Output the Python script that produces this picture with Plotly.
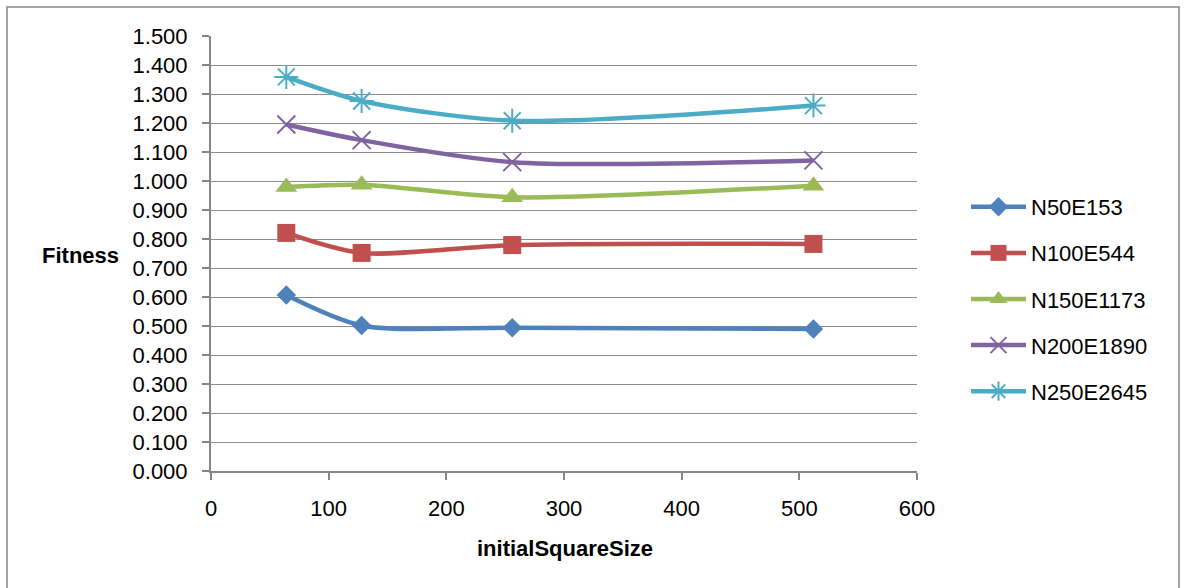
import plotly.graph_objects as go

x_sizes = [64, 128, 256, 512]
series_names = ["N50E153", "N100E544", "N150E1173", "N200E1890", "N250E2645"]
n50 = [0.607, 0.502, 0.494, 0.490]
n100 = [0.821, 0.752, 0.779, 0.783]
n150 = [0.979, 0.987, 0.944, 0.984]
n200 = [1.195, 1.141, 1.065, 1.071]
n250 = [1.359, 1.276, 1.208, 1.260]
series_values = [n50, n100, n150, n200, n250]
colors = ["#4F81BD", "#C0504D", "#9BBB59", "#8064A2", "#4BACC6"]
symbols = ["diamond", "square", "triangle-up", "x-thin", "asterisk"]
sizes = [15, 18, 19, 18, 20]

FONT = "Liberation Sans"
FS = 22
W, H = 1188, 588
L, R, T, B = 211, 917, 36, 471

fig = go.Figure()
for i, (name, vals) in enumerate(zip(series_names, series_values)):
    thin = symbols[i] in ("x-thin", "asterisk")
    fig.add_trace(go.Scatter(
        x=x_sizes, y=vals, name=name, mode="lines+markers",
        legendgroup=name,
        line=dict(color=colors[i], width=4.5, shape="spline", smoothing=0.8),
        marker=dict(symbol=symbols[i], size=sizes[i], color=colors[i],
                    line=dict(color=colors[i], width=2 if thin else 0)),
    ))

def px_x(p):
    return (p - L) / (R - L)

def px_y(p):
    return (B - p) / (B - T)

fig.update_layout(
    width=W, height=H,
    margin=dict(l=L, r=W - R, t=T, b=H - B),
    paper_bgcolor="white", plot_bgcolor="white",
    font=dict(family=FONT, size=FS, color="#000000"),
    xaxis=dict(range=[0, 600], dtick=100, tick0=0, showgrid=False,
               showline=True, linecolor="#868686", linewidth=2,
               ticks="outside", ticklen=7, tickcolor="#868686", tickwidth=1.5,
               ticklabelstandoff=10,
               zeroline=False, fixedrange=True),
    yaxis=dict(range=[0, 1.5], dtick=0.1, tick0=0, tickformat=".3f",
               showgrid=True, gridcolor="#8c8c8c", gridwidth=1.2,
               showline=True, linecolor="#868686", linewidth=2,
               ticks="outside", ticklen=7, tickcolor="#868686", tickwidth=1.5,
               ticklabelstandoff=10,
               zeroline=False, fixedrange=True),
    legend=dict(x=px_x(966), y=px_y(186), xanchor="left", yanchor="top",
                font=dict(family=FONT, size=FS), tracegroupgap=14.5,
                itemwidth=55,
                bgcolor="rgba(0,0,0,0)"),
    showlegend=True,
    shapes=[dict(type="rect", xref="paper", yref="paper",
                 x0=px_x(7), x1=px_x(1179), y0=px_y(600), y1=px_y(7),
                 line=dict(color="#868686", width=1.5), fillcolor="rgba(0,0,0,0)",
                 layer="below")],
    annotations=[
        dict(text="<b>Fitness</b>", xref="paper", yref="paper",
             x=px_x(80), y=px_y(255), xanchor="center", yanchor="middle",
             showarrow=False, font=dict(family=FONT, size=FS)),
        dict(text="<b>initialSquareSize</b>", xref="paper", yref="paper",
             x=px_x(565), y=px_y(548), xanchor="center", yanchor="middle",
             showarrow=False, font=dict(family=FONT, size=FS)),
    ],
)

fig.write_html("out.html")
